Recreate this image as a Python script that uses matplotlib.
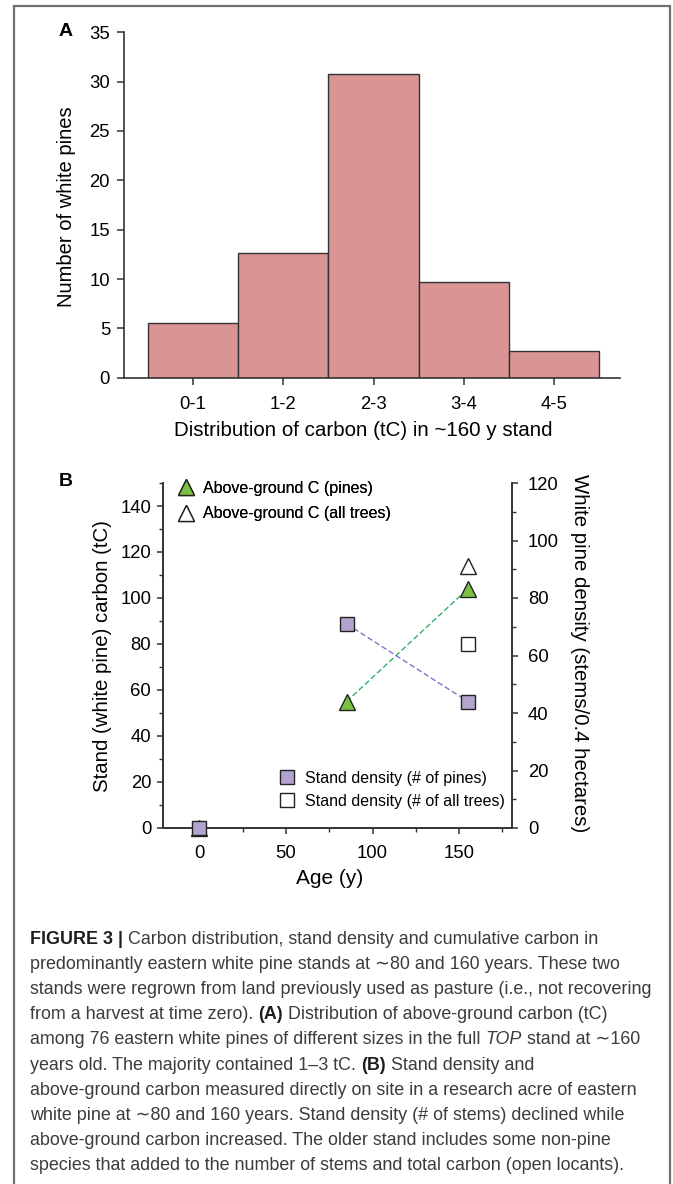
import matplotlib
matplotlib.use("Agg")
import matplotlib.pyplot as plt
from matplotlib.lines import Line2D
from matplotlib.patches import Rectangle
from matplotlib.ticker import MultipleLocator
from matplotlib import font_manager

# ---------------- data ----------------
carbon_bins = ['0-1', '1-2', '2-3', '3-4', '4-5']
pine_counts = [5.5, 12.6, 30.8, 9.7, 2.7]

age = [0, 85, 155]
carbon_pines = [0, 55, 104]
age_all = [155]
carbon_all = [114]
density_pines = [0, 71, 44]
density_all = [64]

caption_lines = [
    [("FIGURE 3 |", "bold"), (" Carbon distribution, stand density and cumulative carbon in", "normal")],
    [("predominantly eastern white pine stands at \u223c80 and 160 years. These two", "normal")],
    [("stands were regrown from land previously used as pasture (i.e., not recovering", "normal")],
    [("from a harvest at time zero). ", "normal"), ("(A)", "bold"), (" Distribution of above-ground carbon (tC)", "normal")],
    [("among 76 eastern white pines of different sizes in the full ", "normal"), ("TOP", "italic"), (" stand at \u223c160", "normal")],
    [("years old. The majority contained 1\u20133 tC. ", "normal"), ("(B)", "bold"), (" Stand density and", "normal")],
    [("above-ground carbon measured directly on site in a research acre of eastern", "normal")],
    [("white pine at \u223c80 and 160 years. Stand density (# of stems) declined while", "normal")],
    [("above-ground carbon increased. The older stand includes some non-pine", "normal")],
    [("species that added to the number of stems and total carbon (open locants).", "normal")],
]

# ---------------- fonts ----------------
avail = {f.name for f in font_manager.fontManager.ttflist}
main_font = 'Liberation Sans Narrow' if 'Liberation Sans Narrow' in avail else 'Liberation Sans'
FAM = [main_font, 'DejaVu Sans']
plt.rcParams['font.family'] = FAM

W, H = 673, 1184
fig = plt.figure(figsize=(W / 100, H / 100), dpi=100)

def fx(px):
    return px / W

def fy(py):
    return 1 - py / H

# outer border
fig.add_artist(Rectangle((fx(14), -0.01), fx(670) - fx(14), fy(6) + 0.01,
                         transform=fig.transFigure, fill=False,
                         edgecolor='#6e6e6e', linewidth=1.6))

axis_col = '#333333'

# ---------------- Panel A ----------------
axA = fig.add_axes([fx(124), fy(377.7), fx(620) - fx(124), (377.7 - 32.3) / H])
axA.bar(range(len(carbon_bins)), pine_counts, width=1.0, color='#D99594',
        edgecolor='#333333', linewidth=1.0, zorder=2)
axA.set_xlim(-0.767, 4.733)
axA.set_ylim(0, 35)
axA.set_yticks(range(0, 36, 5))
axA.set_xticks(range(len(carbon_bins)))
axA.set_xticklabels(carbon_bins)
for s in ['top', 'right']:
    axA.spines[s].set_visible(False)
for s in ['left', 'bottom']:
    axA.spines[s].set_color(axis_col)
    axA.spines[s].set_linewidth(1.2)
axA.tick_params(axis='y', direction='out', length=5, width=1.1, color=axis_col,
                labelsize=13.3, pad=5)
axA.tick_params(axis='x', direction='out', length=5, width=1.1, color=axis_col,
                labelsize=13.3, pad=8)
axA.set_ylabel('Number of white pines', fontsize=14.5, va='center')
axA.yaxis.set_label_coords((66 - 124) / 496, 0.494)
axA.set_xlabel('Distribution of carbon (tC) in ~160 y stand', fontsize=14.8, va='center')
axA.xaxis.set_label_coords((363.5 - 124) / 496, -(430 - 377.7) / 345.4)
fig.text(fx(66), fy(32), 'A', fontsize=14, fontweight='bold', ha='center', va='center',
         family=['Liberation Sans', 'DejaVu Sans'])

# ---------------- Panel B ----------------
axB = fig.add_axes([fx(163), fy(828), fx(512) - fx(163), 345 / H])
axB.set_xlim(-21, 180.5)
axB.set_ylim(0, 150)
axB.xaxis.set_major_locator(MultipleLocator(50))
axB.xaxis.set_minor_locator(MultipleLocator(25))
axB.set_xticks([0, 50, 100, 150])
axB.yaxis.set_major_locator(MultipleLocator(20))
axB.yaxis.set_minor_locator(MultipleLocator(10))
axB.set_yticks(range(0, 141, 20))
axB.spines['top'].set_visible(False)
for s in ['left', 'bottom', 'right']:
    axB.spines[s].set_color(axis_col)
    axB.spines[s].set_linewidth(1.2)
axB.tick_params(which='major', direction='out', length=4.5, width=1.1, color=axis_col,
                labelsize=13.3)
axB.tick_params(which='minor', direction='out', length=3, width=1.0, color=axis_col)
axB.tick_params(axis='y', pad=4)
axB.tick_params(axis='x', pad=8)

ax2 = axB.twinx()
ax2.set_ylim(0, 120)
ax2.yaxis.set_major_locator(MultipleLocator(20))
ax2.yaxis.set_minor_locator(MultipleLocator(10))
ax2.spines['top'].set_visible(False)
for s in ['left', 'bottom', 'right']:
    ax2.spines[s].set_color(axis_col)
    ax2.spines[s].set_linewidth(1.2)
ax2.tick_params(which='major', direction='out', length=4.5, width=1.1, color=axis_col,
                labelsize=13.3, pad=7)
ax2.tick_params(which='minor', direction='out', length=3, width=1.0, color=axis_col)

green = '#7DC142'
purple = '#B3A4CF'
edge = '#222222'

# carbon (left axis)
axB.plot(age[1:], carbon_pines[1:], linestyle=(0, (4, 2)), color='#2DB36A', linewidth=1.0, zorder=2)
axB.plot(age, carbon_pines, linestyle='none', marker='^', markersize=11,
         markerfacecolor=green, markeredgecolor=edge, markeredgewidth=1.0,
         clip_on=False, zorder=3)
axB.plot(age_all, carbon_all, linestyle='none', marker='^', markersize=11,
         markerfacecolor='white', markeredgecolor=edge, markeredgewidth=1.0,
         clip_on=False, zorder=3)

# density (right axis)
ax2.plot(age[1:], density_pines[1:], linestyle=(0, (4, 2)), color='#8E6FC6', linewidth=1.0, zorder=2)
ax2.plot(age, density_pines, linestyle='none', marker='s', markersize=9.5,
         markerfacecolor=purple, markeredgecolor=edge, markeredgewidth=1.0,
         clip_on=False, zorder=3)
ax2.plot(age_all, density_all, linestyle='none', marker='s', markersize=9.5,
         markerfacecolor='white', markeredgecolor=edge, markeredgewidth=1.0,
         clip_on=False, zorder=3)

axB.set_ylabel('Stand (white pine) carbon (tC)', fontsize=14.7, va='center')
axB.yaxis.set_label_coords((103 - 163) / 349, (828 - 656.5) / 345)
ax2.set_ylabel('White pine density (stems/0.4 hectares)', fontsize=14.7, rotation=-90,
               va='center')
ax2.yaxis.set_label_coords((579 - 163) / 349, (828 - 653) / 345)
axB.set_xlabel('Age (y)', fontsize=15, va='center')
axB.xaxis.set_label_coords((330 - 163) / 349, -(878 - 828) / 345)

fig.text(fx(66), fy(481), 'B', fontsize=14, fontweight='bold', ha='center', va='center',
         family=['Liberation Sans', 'DejaVu Sans'])

# legends
h1 = [Line2D([], [], linestyle='none', marker='^', markersize=11, markerfacecolor=green,
             markeredgecolor=edge),
      Line2D([], [], linestyle='none', marker='^', markersize=11, markerfacecolor='white',
             markeredgecolor=edge)]
leg1 = axB.legend(h1, ['Above-ground C (pines)', 'Above-ground C (all trees)'],
                  loc='upper left', bbox_to_anchor=((178 - 163) / 349, (828 - 481) / 345),
                  frameon=False, fontsize=11.5, handlelength=1.0, handletextpad=0.55,
                  labelspacing=0.64, borderpad=0, borderaxespad=0)
axB.add_artist(leg1)
h2 = [Line2D([], [], linestyle='none', marker='s', markersize=9.5, markerfacecolor=purple,
             markeredgecolor=edge),
      Line2D([], [], linestyle='none', marker='s', markersize=9.5, markerfacecolor='white',
             markeredgecolor=edge)]
leg2 = ax2.legend(h2, ['Stand density (# of pines)', 'Stand density (# of all trees)'],
                  loc='upper left', bbox_to_anchor=((279 - 163) / 349, (828 - 771) / 345),
                  frameon=False, fontsize=11.5, handlelength=1.0, handletextpad=0.6,
                  labelspacing=0.48, borderpad=0, borderaxespad=0)

# ---------------- caption ----------------
renderer = fig.canvas.get_renderer()
cap_col = '#3c3c3c'

def seg_props(style, size):
    d = dict(fontsize=size, color=cap_col, family=FAM)
    if style == 'bold':
        d['fontweight'] = 'bold'
        d['color'] = '#1e1e1e'
    elif style == 'italic':
        d['fontstyle'] = 'italic'
    return d

# fit size so the longest line spans ~623 px
probe = fig.text(0, 0, caption_lines[2][0][0], fontsize=10, family=FAM)
wp = probe.get_window_extent(renderer).width
probe.remove()
cap_size = 10 * 623 / wp

x0 = 30
y_first = 939
step = 25.2
for i, line in enumerate(caption_lines):
    xp = x0
    yp = y_first + i * step
    for txt, style in line:
        t = fig.text(fx(xp), fy(yp), txt, ha='left', va='center', **seg_props(style, cap_size))
        bb = t.get_window_extent(renderer)
        xp += bb.width

fig.savefig('out.png', dpi=100)
